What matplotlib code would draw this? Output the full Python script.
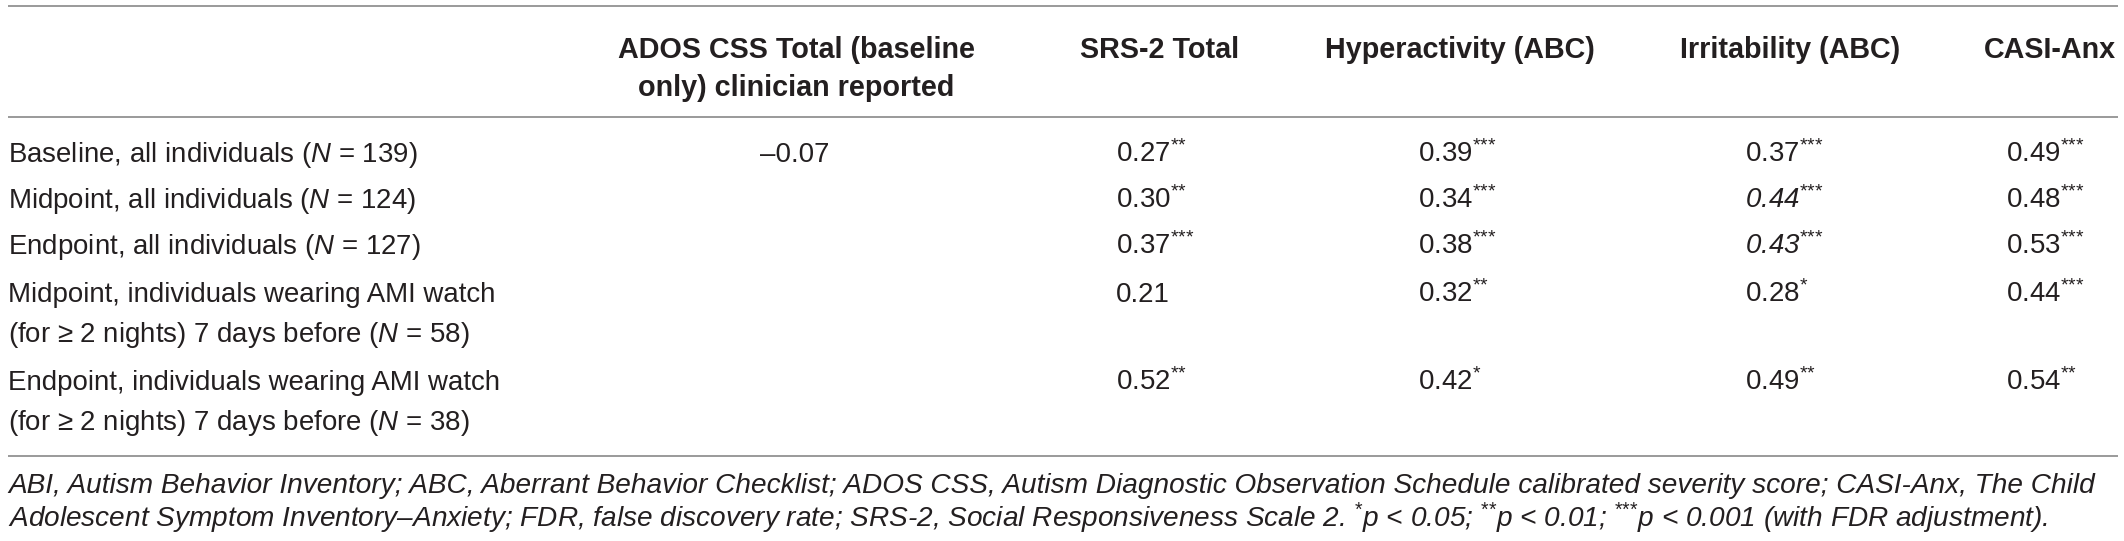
"""
Correlation table: AMI watch measures vs. clinical scales
"""
import matplotlib
matplotlib.use("Agg")
import matplotlib.pyplot as plt

plt.rcParams['font.family'] = ['Liberation Sans', 'DejaVu Sans']
plt.rcParams['mathtext.fontset'] = 'custom'
plt.rcParams['mathtext.rm'] = 'Liberation Sans'
plt.rcParams['mathtext.it'] = 'Liberation Sans:italic'
plt.rcParams['mathtext.bf'] = 'Liberation Sans:bold'
plt.rcParams['mathtext.sf'] = 'Liberation Sans:italic'

# --- data ---
row_labels = [
    "Baseline, all individuals ($N$ = 139)",
    "Midpoint, all individuals ($N$ = 124)",
    "Endpoint, all individuals ($N$ = 127)",
    "Midpoint, individuals wearing AMI watch\n(for \u2265 2 nights) 7 days before ($N$ = 58)",
    "Endpoint, individuals wearing AMI watch\n(for \u2265 2 nights) 7 days before ($N$ = 38)",
]
col_headers = [
    "ADOS CSS Total (baseline\nonly) clinician reported",
    "SRS-2 Total",
    "Hyperactivity (ABC)",
    "Irritability (ABC)",
    "CASI-Anx",
]
ados = [-0.07, None, None, None, None]
ados_sig = ["", "", "", "", ""]
srs2 = [0.27, 0.30, 0.37, 0.21, 0.52]
srs2_sig = ["**", "**", "***", "", "**"]
hyper = [0.39, 0.34, 0.38, 0.32, 0.42]
hyper_sig = ["***", "***", "***", "**", "*"]
irrit = [0.37, 0.44, 0.43, 0.28, 0.49]
irrit_sig = ["***", "***", "***", "*", "**"]
casi = [0.49, 0.48, 0.53, 0.44, 0.54]
casi_sig = ["***", "***", "***", "***", "**"]
# cells printed in italics in the source table
italic_cells = {(3, 1), (3, 2)}


def stars(sig):
    # braces keep mathtext from spacing the '*' like binary operators
    return "$^{" + "".join("{*}" for _ in sig) + "}$"


footnote = [
    "ABI, Autism Behavior Inventory; ABC, Aberrant Behavior Checklist; ADOS CSS, "
    "Autism Diagnostic Observation Schedule calibrated severity score; CASI-Anx, The Child",
    "Adolescent Symptom Inventory\u2013Anxiety; FDR, false discovery rate; SRS-2, Social "
    "Responsiveness Scale 2. " + stars("*") + "p < 0.05; " + stars("**") + "p < 0.01; "
    + stars("***") + "p < 0.001 (with FDR adjustment).",
]

columns = [(ados, ados_sig), (srs2, srs2_sig), (hyper, hyper_sig),
           (irrit, irrit_sig), (casi, casi_sig)]

# --- layout (pixel units) ---
W, H = 2124, 541
TXT = '#231f20'
RULE = '#9a9a9a'
FS = 19.9
FS_HEAD = 20.7
FS_NOTE = 20.2

header_x = [796, 1160, 1460, 1790, 2050]
value_x = [760, 1116, 1418, 1745, 2006]
header_y = 58
header_gap = 38
row_y = [162, 208, 254, 302, 390]
line_gap = 40
note_y = [493, 527]


def fmt(v, sig, italic):
    if v is None:
        return None
    s = "{:.2f}".format(abs(v))
    if v < 0:
        s = "\u2013" + s
    if italic:
        s = r"$\mathsf{" + s + "}$"
    if sig:
        s += stars(sig)
    return s


fig = plt.figure(figsize=(W / 100, H / 100), dpi=100)
ax = fig.add_axes([0, 0, 1, 1])
ax.set_xlim(0, W)
ax.set_ylim(H, 0)
ax.axis('off')

# rules
for y in (5.5, 116.5, 456):
    ax.hlines(y, 8, 2118, color=RULE, lw=1.4)

# headers
for x, h in zip(header_x, col_headers):
    for k, part in enumerate(h.split("\n")):
        ax.text(x, header_y + k * header_gap, part, ha='center', va='baseline',
                fontsize=FS_HEAD, fontweight='bold', color=TXT)

# row labels
for y, lab in zip(row_y, row_labels):
    for k, part in enumerate(lab.split("\n")):
        ax.text(8, y + k * line_gap, part, ha='left', va='baseline',
                fontsize=FS, color=TXT)

# values
for c, (vals, sigs) in enumerate(columns):
    for r, (v, sg) in enumerate(zip(vals, sigs)):
        s = fmt(v, sg, (c, r) in italic_cells)
        if s is None:
            continue
        ax.text(value_x[c], row_y[r], s, ha='left', va='baseline',
                fontsize=FS, color=TXT)

# footnote
for y, line in zip(note_y, footnote):
    ax.text(8, y, line, ha='left', va='baseline', fontsize=FS_NOTE,
            style='italic', color=TXT)

fig.savefig("out.png", dpi=100)
